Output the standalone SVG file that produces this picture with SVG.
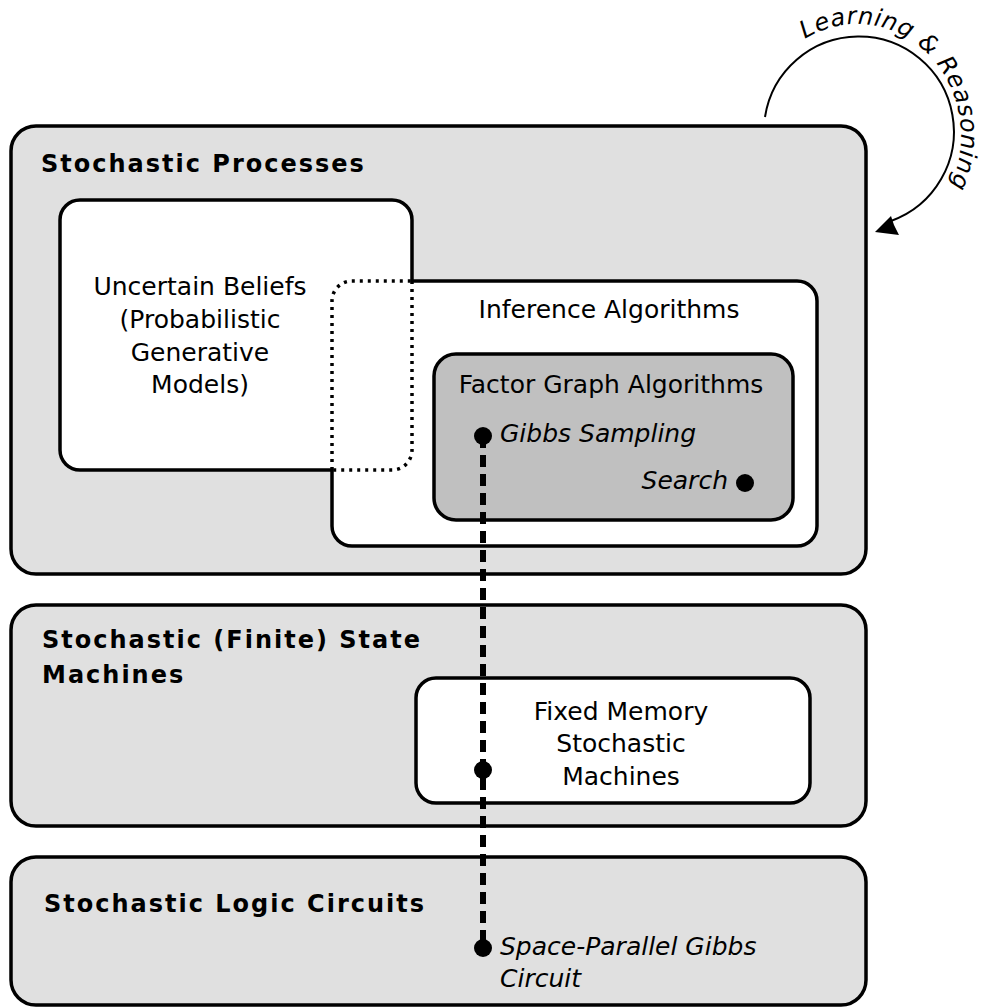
<svg xmlns="http://www.w3.org/2000/svg" width="981" height="1008" viewBox="0 0 981 1008">
  <style>
    .layer { fill: #e0e0e0; stroke: #000; stroke-width: 3.5; }
    .white { fill: #fff; stroke: none; }
    .edge { fill: none; stroke: #000; stroke-width: 3.5; }
    .dotted { fill: none; stroke: #000; stroke-width: 3.5; stroke-dasharray: 3 5; }
    .title { font-family: "DejaVu Sans", sans-serif; font-weight: bold; font-size: 24px; letter-spacing: 2px; }
    .label { font-family: "DejaVu Sans", sans-serif; font-size: 25px; text-anchor: middle; }
    .item { font-family: "DejaVu Sans", sans-serif; font-style: italic; font-size: 25px; }
    .dot { fill: #000; }
    .link { fill: none; stroke: #000; stroke-width: 6; stroke-dasharray: 12 7; }
  </style>
  <defs>
    <path id="cyclePath" d="M805,39 A104,112 0 1 1 909,233"/>
  </defs>

  <!-- Learning & Reasoning cycle -->
  <g id="cycle">
    <path d="M765,117 A95,95 0 1 1 891,221" fill="none" stroke="#000" stroke-width="2"/>
    <path d="M875,232 L891,216 L894,225 L899,235 Z" fill="#000"/>
    <text font-family="DejaVu Sans, sans-serif" font-style="italic" font-size="24" letter-spacing="0.6"><textPath href="#cyclePath">Learning &amp; Reasoning</textPath></text>
  </g>

  <!-- Layer 1 -->
  <g id="stochastic-processes">
    <rect class="layer" x="11" y="126" width="855" height="448" rx="25"/>
    <text class="title" x="41" y="172" letter-spacing="2.6">Stochastic Processes</text>
  </g>

  <!-- Overlapping beliefs / inference boxes -->
  <g id="uncertain-beliefs">
    <rect class="white" x="60" y="200" width="352" height="270" rx="20"/>
  </g>
  <g id="inference-algorithms">
    <rect class="white" x="332" y="281" width="485" height="265" rx="20"/>
  </g>
  <g id="overlap-outlines">
    <path class="edge" d="M412,281 L412,220 A20,20 0 0 0 392,200 L80,200 A20,20 0 0 0 60,220 L60,450 A20,20 0 0 0 80,470 L332,470"/>
    <path class="edge" d="M412,281 L797,281 A20,20 0 0 1 817,301 L817,526 A20,20 0 0 1 797,546 L352,546 A20,20 0 0 1 332,526 L332,470"/>
    <path class="dotted" d="M412,281 L412,450 A20,20 0 0 1 392,470 L332,470"/>
    <path class="dotted" d="M332,470 L332,301 A20,20 0 0 1 352,281 L412,281"/>
  </g>
  <g id="uncertain-beliefs-text">
    <text class="label" x="200" y="295">Uncertain Beliefs</text>
    <text class="label" x="200" y="328">(Probabilistic</text>
    <text class="label" x="200" y="361">Generative</text>
    <text class="label" x="200" y="393">Models)</text>
  </g>
  <g id="inference-algorithms-text">
    <text class="label" x="609" y="318">Inference Algorithms</text>
  </g>

  <g id="factor-graph">
    <rect x="434" y="354" width="359" height="166" rx="22" fill="#c0c0c0" stroke="#000" stroke-width="3.5"/>
    <text class="label" x="611" y="393">Factor Graph Algorithms</text>
    <text class="item" x="500" y="442">Gibbs Sampling</text>
    <text class="item" x="728" y="489" text-anchor="end">Search</text>
    <circle class="dot" cx="745" cy="483" r="9"/>
  </g>

  <!-- Layer 2 -->
  <g id="state-machines">
    <rect class="layer" x="11" y="605" width="855" height="221" rx="25"/>
    <text class="title" x="42" y="648">Stochastic (Finite) State</text>
    <text class="title" x="42" y="683">Machines</text>
  </g>
  <g id="fixed-memory">
    <rect x="416" y="678" width="394" height="125" rx="20" fill="#fff" stroke="#000" stroke-width="3.5"/>
    <text class="label" x="621" y="720">Fixed Memory</text>
    <text class="label" x="621" y="752">Stochastic</text>
    <text class="label" x="621" y="785">Machines</text>
  </g>

  <!-- Layer 3 -->
  <g id="logic-circuits">
    <rect class="layer" x="11" y="857" width="855" height="148" rx="25"/>
    <text class="title" x="44" y="912">Stochastic Logic Circuits</text>
    <text class="item" x="500" y="955">Space-Parallel Gibbs</text>
    <text class="item" x="500" y="987">Circuit</text>
  </g>

  <!-- Gibbs sampling implementation chain -->
  <g id="connectors">
    <line class="link" x1="483" y1="436" x2="483" y2="948"/>
    <circle class="dot" cx="483" cy="436" r="9"/>
    <circle class="dot" cx="483" cy="770" r="9"/>
    <circle class="dot" cx="483" cy="948" r="9"/>
  </g>
</svg>
